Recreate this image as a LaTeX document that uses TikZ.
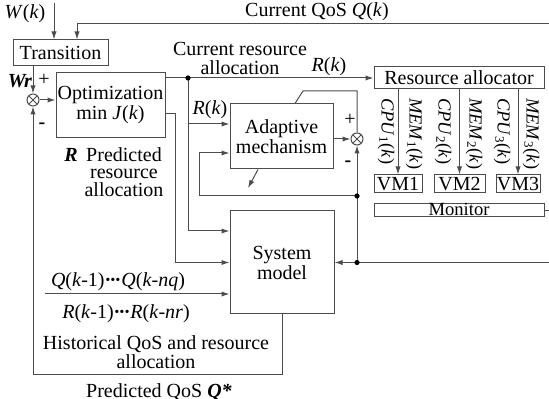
\documentclass[tikz,border=0pt]{standalone}
\usepackage{fontspec}
\setmainfont{Liberation Serif}
\usetikzlibrary{arrows.meta,positioning}
\definecolor{linegray}{gray}{0.3}
\newcommand{\hdotsb}{\textbf{·\kern-0.08em·\kern-0.08em·}}
\tikzset{
  block/.style={draw=linegray, line width=0.5pt, align=center, inner sep=0pt, font=\fontsize{10}{10}\selectfont},
  sumnode/.style={draw=linegray, line width=0.5pt, circle, minimum size=6pt, inner sep=0pt,
    path picture={\draw[linegray, line width=0.5pt] (path picture bounding box.north west) -- (path picture bounding box.south east)
      (path picture bounding box.north east) -- (path picture bounding box.south west);}},
  flow/.style={-{Latex[length=4pt,width=2.6pt]}, draw=linegray, line width=0.5pt},
  wire/.style={draw=linegray, line width=0.5pt},
  dot/.style={circle, fill=black, inner sep=0pt, minimum size=2.6pt},
  txt/.style={inner sep=0pt, align=center, font=\fontsize{10}{9.5}\selectfont},
  vlabel/.style={inner sep=0pt, rotate=-90, anchor=west, font=\fontsize{9.2}{9.2}\selectfont}
}
\begin{document}
\begin{tikzpicture}[x=0.5pt, y=-0.5pt]
  \useasboundingbox (0,0) rectangle (549,399);
  % Blocks
  \node[block, minimum width=47.5pt, minimum height=13pt] (trans) at (60.5,53) {Transition};
  \node[block, minimum width=54.5pt, minimum height=32.5pt] (opt) at (110.5,105.5) {Optimization\\min \textit{J}(\textit{k})};
  \node[block, minimum width=51.5pt, minimum height=32.5pt] (adapt) at (281.5,136.5) {Adaptive\\mechanism};
  \node[block, minimum width=52pt, minimum height=51.5pt] (sys) at (282,262.5) {System\\model};
  \node[block, minimum width=85pt, minimum height=11pt] (alloc) at (459,78) {Resource allocator};
  \node[block, minimum width=24pt, minimum height=9pt] (vm1) at (398,184) {VM1};
  \node[block, minimum width=25.5pt, minimum height=9pt] (vm2) at (459.5,184) {VM2};
  \node[block, minimum width=22pt, minimum height=9pt] (vm3) at (518,184) {VM3};
  \node[block, minimum width=85pt, text height=6pt, text depth=0.5pt, font=\fontsize{9.3}{9.3}\selectfont] (monitor) at (459,210.5) {Monitor};
  \node[sumnode] (s1) at (33,100) {};
  \node[sumnode] (s2) at (357,139) {};

  % Free ends and junctions
  \coordinate (wtop) at (54,3);
  \coordinate (qin) at (549,24);
  \coordinate (j1) at (188,79);
  \coordinate (j2) at (188,124);
  \coordinate (j3) at (357,196);
  \coordinate (j4) at (357,262.5);
  \coordinate (sysin) at (549,262.5);
  \coordinate (monout) at (549,210.5);
  \coordinate (a2) at (303,91);
  \coordinate (adtip) at (248,188);
  \coordinate (hq) at (45,294);
  \coordinate (pq) at (33,374);

  % Labels
  \node[txt] (wk) at (25,14) {\textit{W}(\textit{k})};
  \node[txt] (qk) at (317,12) {Current QoS \textit{Q}(\textit{k})};
  \node[txt] (wr) at (20,81) {\textbf{\textit{Wr}}};
  \node[txt] (p1) at (44,80) {+};
  \node[txt] (m1) at (42,126) {\textbf{-}};
  \node[txt] (cra) at (240,58) {Current resource\\allocation};
  \node[txt] (rk1) at (329,67) {\textit{R}(\textit{k})};
  \node[txt] (rk2) at (210,110) {\textit{R}(\textit{k})};
  \node[txt] (p2) at (350,120) {+};
  \node[txt] (m2) at (348,164) {\textbf{-}};
  \node[txt] (rbold) at (71,155) {\textbf{\textit{R}}};
  \node[txt, font=\fontsize{10}{8.8}\selectfont] (pra) at (124,172) {Predicted\\resource\\allocation};
  \node[txt] (qhist) at (118,282) {\textit{Q}(\textit{k}-1)\hdotsb\textit{Q}(\textit{k}-\textit{nq})};
  \node[txt] (rhist) at (126,314) {\textit{R}(\textit{k}-1)\hdotsb\textit{R}(\textit{k}-\textit{nr})};
  \node[txt] (hist) at (156,352) {Historical QoS and resource\\allocation};
  \node[txt] (pqos) at (159,392) {Predicted QoS \textbf{\textit{Q*}}};
  \node[vlabel] (cpu1) at (386,98) {\textit{CPU}\textsubscript{1}(\textit{k})};
  \node[vlabel] (mem1) at (414,98) {\textit{MEM}\textsubscript{1}(\textit{k})};
  \node[vlabel] (cpu2) at (443,98) {\textit{CPU}\textsubscript{2}(\textit{k})};
  \node[vlabel] (mem2) at (474,98) {\textit{MEM}\textsubscript{2}(\textit{k})};
  \node[vlabel] (cpu3) at (502,98) {\textit{CPU}\textsubscript{3}(\textit{k})};
  \node[vlabel] (mem3) at (531,98) {\textit{MEM}\textsubscript{3}(\textit{k})};

  % Flows
  \draw[flow] (wtop) -- (wtop |- trans.north);
  \draw[flow] (qin) -| ([xshift=8.25pt]trans.north);
  \draw[flow] (s1 |- trans.south) -- (s1.north);
  \draw[flow] (s1.east) -- (s1.east -| opt.west);
  \draw[flow] (opt.east |- alloc.west) -- (alloc.west);
  \draw[flow] (j1) |- ([yshift=15.75pt]sys.west);
  \draw[flow] (j2) -- (j2 -| adapt.west);
  \draw[flow] ([yshift=-4.25pt]opt.east) -| ([xshift=-27pt]sys.west) -- (sys.west);
  \draw[flow] (adapt.east |- s2) -- (s2.west);
  \draw[wire] (s2.north) |- (a2) -- ([xshift=6.75pt]adapt.north);
  \draw[flow] ([xshift=-11.75pt]adapt.south) -- (adtip);
  \draw[flow] (j3) -| ([xshift=-15pt,yshift=-8.25pt]adapt.west) -- ([yshift=-8.25pt]adapt.west);
  \draw[flow] (j4) -- (s2.south);
  \draw[flow] (sysin) -- (sys.east);
  \draw[flow] (hq) -- (hq -| sys.west);
  \draw[flow] (sys.south) |- (pq) -- (s1.south);
  \draw[flow] (vm1 |- alloc.south) -- (vm1.north);
  \draw[flow] (vm2 |- alloc.south) -- (vm2.north);
  \draw[flow] (vm3 |- alloc.south) -- (vm3.north);
  \draw[wire] (monitor.east) -- (monout);

  % Junction dots
  \node[dot] at (j1 |- alloc.west) {};
  \node[dot] at (j3) {};
  \node[dot] at (j4) {};
\end{tikzpicture}
\end{document}
